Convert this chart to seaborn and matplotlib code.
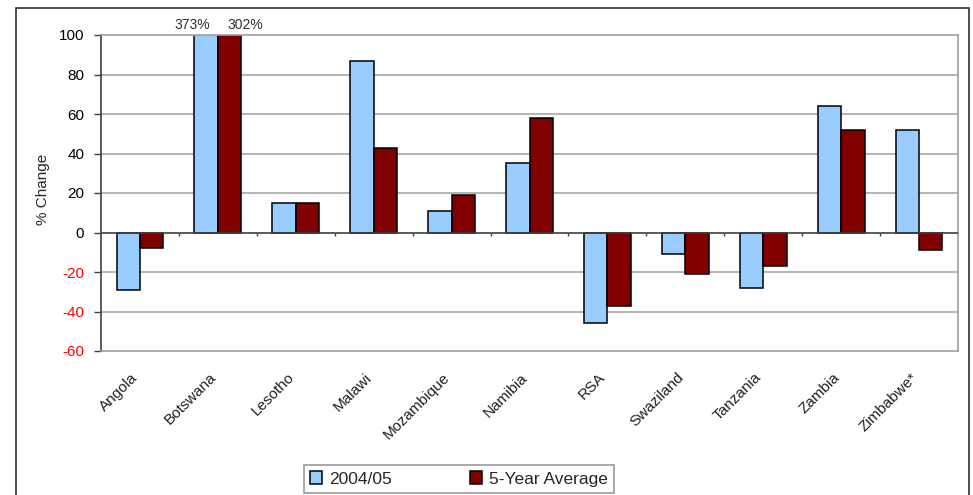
import pandas as pd
import seaborn as sns
import matplotlib.pyplot as plt
from matplotlib.patches import Rectangle
from matplotlib.transforms import ScaledTranslation

countries = ['Angola', 'Botswana', 'Lesotho', 'Malawi', 'Mozambique', 'Namibia',
             'RSA', 'Swaziland', 'Tanzania', 'Zambia', 'Zimbabwe*']
season_0405 = [-29, 373, 15, 87, 11, 35, -46, -11, -28, 64, 52]
five_year_avg = [-8, 302, 15, 43, 19, 58, -37, -21, -17, 52, -9]
series_names = ['2004/05', '5-Year Average']
yticks = [-60, -40, -20, 0, 20, 40, 60, 80, 100]

df = pd.DataFrame({
    'country': countries * 2,
    'series': [series_names[0]] * len(countries) + [series_names[1]] * len(countries),
    'value': season_0405 + five_year_avg,
})

sns.set_style('white')
plt.rcParams['font.family'] = ['Liberation Sans', 'DejaVu Sans']

fig = plt.figure(figsize=(9.73, 4.95), dpi=100)
ax = fig.add_axes([101 / 973, 1 - 351 / 495, 857 / 973, 316 / 495])

sns.barplot(data=df, x='country', y='value', hue='series',
            palette=['#99CCFF', '#800000'], width=0.6, gap=0,
            edgecolor='black', linewidth=1.1, saturation=1, ax=ax, legend=True)

ax.set_ylim(-60, 100)
ax.set_xlim(-0.5, len(countries) - 0.5)
ax.set_yticks(yticks)
ax.set_yticklabels([str(v) for v in yticks], fontsize=11)
for lab, v in zip(ax.get_yticklabels(), yticks):
    lab.set_color('red' if v < 0 else 'black')
ax.tick_params(axis='y', length=5, width=1, color='#404040', pad=7, left=True)
ax.set_ylabel('% Change', fontsize=11)
ax.yaxis.set_label_coords(-0.06, 0.51)
ax.set_xlabel('')

# grid lines and frame
for v in yticks[1:-1]:
    if v != 0:
        ax.axhline(v, color='#A8A8A8', lw=1.2, zorder=0)
ax.axhline(0, color='#404040', lw=1.2, zorder=3)
ax.vlines([i - 0.5 for i in range(1, len(countries))], -2, 0, color='#404040', lw=1, zorder=3)
for side in ['top', 'right', 'bottom']:
    ax.spines[side].set_color('#A0A0A0')
    ax.spines[side].set_linewidth(1.2)
ax.spines['left'].set_color('#404040')
ax.spines['left'].set_linewidth(1.2)

ax.tick_params(axis='x', length=0, pad=14)
ax.set_xticks(range(len(countries)))
ax.set_xticklabels(countries, rotation=45, ha='right', va='top',
                   rotation_mode='anchor', fontsize=11, color='#202020')
shift = ScaledTranslation(-9 / 100, 0, fig.dpi_scale_trans)
for lab in ax.get_xticklabels():
    lab.set_transform(lab.get_transform() + shift)

# values of clipped bars
bots = countries.index('Botswana')
ax.text(bots - 0.33, 101.5, f'{season_0405[bots]}%', ha='center', va='bottom',
        fontsize=10, color='#303030', clip_on=False)
ax.text(bots + 0.35, 101.5, f'{five_year_avg[bots]}%', ha='center', va='bottom',
        fontsize=10, color='#303030', clip_on=False)

handles, labels = ax.get_legend_handles_labels()
ax.get_legend().remove()
leg = fig.legend(handles, labels, loc='center', ncol=2,
                 bbox_to_anchor=(459 / 973, 1 - 479 / 495), fontsize=12.5,
                 frameon=True, fancybox=False, edgecolor='#808080',
                 handlelength=0.7, handleheight=0.7, columnspacing=4.5,
                 handletextpad=0.4, borderpad=0.35, borderaxespad=0)
leg.get_frame().set_linewidth(1.2)

# outer chart frame
fig.add_artist(Rectangle((16 / 973, -0.1), (969 - 16) / 973, 1.1 - 8 / 495,
                         transform=fig.transFigure, fill=False,
                         edgecolor='#303030', lw=1.2))

fig.savefig('out.png', dpi=100)
